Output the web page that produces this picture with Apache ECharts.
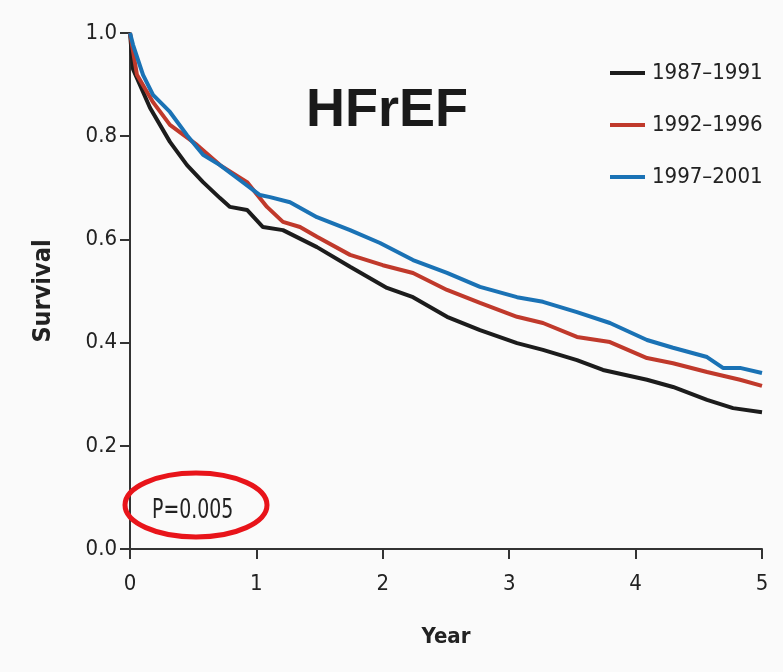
<!DOCTYPE html>
<html>
<head>
<meta charset="utf-8">
<title>HFrEF survival</title>
<script src="https://cdn.jsdelivr.net/npm/echarts@6/dist/echarts.min.js"></script>
<style>
  html, body { margin: 0; padding: 0; background: #fafafa; }
  #main { width: 783px; height: 672px; }
</style>
</head>
<body>
<div id="main"></div>
<script>
// 图例名称
var periods = ["1987\u20131991", "1992\u20131996", "1997\u20132001"];
var lineColors = ["#1c1c1c", "#c0392b", "#1a72b5"];

// 1987-1991 曲线
var yearsA = [0, 0.024, 0.158, 0.316, 0.451, 0.578, 0.712, 0.791, 0.926, 1.052, 1.21, 1.479, 1.741, 2.033, 2.239, 2.508, 2.769, 3.062, 3.267, 3.536, 3.742, 4.09, 4.296, 4.565, 4.771, 5.0];
var survA = [1.0, 0.93, 0.855, 0.789, 0.744, 0.711, 0.68, 0.663, 0.657, 0.624, 0.618, 0.585, 0.547, 0.506, 0.488, 0.45, 0.424, 0.399, 0.386, 0.366, 0.347, 0.328, 0.314, 0.289, 0.273, 0.265];

// 1992-1996 曲线
var yearsB = [0, 0.055, 0.182, 0.316, 0.53, 0.712, 0.926, 1.084, 1.21, 1.345, 1.479, 1.741, 2.0, 2.239, 2.508, 2.769, 3.062, 3.267, 3.536, 3.797, 4.09, 4.296, 4.565, 4.826, 5.0];
var survB = [1.0, 0.919, 0.866, 0.822, 0.783, 0.744, 0.711, 0.663, 0.634, 0.624, 0.605, 0.57, 0.55, 0.535, 0.502, 0.477, 0.45, 0.438, 0.411, 0.401, 0.37, 0.36, 0.343, 0.328, 0.316];

// 1997-2001 曲线
var yearsC = [0, 0.024, 0.103, 0.182, 0.316, 0.451, 0.578, 0.712, 0.847, 1.028, 1.108, 1.266, 1.479, 1.741, 1.978, 2.239, 2.508, 2.769, 3.062, 3.267, 3.536, 3.797, 4.09, 4.296, 4.565, 4.691, 4.826, 5.0];
var survC = [1.0, 0.977, 0.919, 0.88, 0.847, 0.802, 0.764, 0.744, 0.719, 0.686, 0.682, 0.672, 0.643, 0.618, 0.593, 0.56, 0.535, 0.508, 0.488, 0.479, 0.459, 0.438, 0.405, 0.39, 0.372, 0.351, 0.351, 0.341];

var pText = "P=0.005";

function pairs(xs, ys) {
    var out = [];
    for (var i = 0; i < xs.length; i++) {
        out.push([xs[i], ys[i]]);
    }
    return out;
}

var allData = [pairs(yearsA, survA), pairs(yearsB, survB), pairs(yearsC, survC)];

var condFont = "'DejaVu Sans Condensed', 'DejaVu Sans', sans-serif";

var myChart = echarts.init(document.getElementById("main"));
var option = {
    animation: false,
    backgroundColor: "#fafafa",
    title: {
        text: "HFrEF",
        left: 301,
        top: 79,
        textStyle: {
            fontFamily: "'Liberation Sans', Arial, sans-serif",
            fontSize: 54,
            fontWeight: "bold",
            color: "#1a1a1a"
        }
    },
    legend: {
        orient: "vertical",
        left: 605,
        top: 55,
        itemGap: 26,
        itemWidth: 35,
        itemHeight: 4,
        icon: "rect",
        data: periods,
        textStyle: {
            fontFamily: condFont,
            fontSize: 22,
            lineHeight: 26,
            padding: [0, 0, 0, 2],
            color: "#222"
        }
    },
    grid: {
        left: 130,
        right: 21,
        top: 33,
        bottom: 123
    },
    xAxis: {
        type: "value",
        min: 0,
        max: 5,
        interval: 1,
        name: "Year",
        nameLocation: "middle",
        nameGap: 77,
        nameTextStyle: {
            fontFamily: condFont,
            fontSize: 22,
            fontWeight: "bold",
            color: "#222"
        },
        axisLine: { show: true, onZero: false, lineStyle: { color: "#333", width: 2 } },
        axisTick: { show: true, length: 10, lineStyle: { color: "#333", width: 2 } },
        axisLabel: {
            margin: 24,
            fontFamily: condFont,
            fontSize: 22,
            color: "#222"
        },
        splitLine: { show: false }
    },
    yAxis: {
        type: "value",
        min: 0,
        max: 1,
        interval: 0.2,
        name: "Survival",
        nameLocation: "middle",
        nameGap: 74,
        nameRotate: 90,
        nameTextStyle: {
            fontFamily: condFont,
            fontSize: 25,
            fontWeight: "bold",
            color: "#222"
        },
        axisLine: { show: true, onZero: false, lineStyle: { color: "#333", width: 2 } },
        axisTick: { show: true, length: 10, lineStyle: { color: "#333", width: 2 } },
        axisLabel: {
            margin: 13,
            fontFamily: condFont,
            fontSize: 22,
            color: "#222",
            formatter: function (v) { return v.toFixed(1); }
        },
        splitLine: { show: false }
    },
    graphic: [
        {
            type: "ellipse",
            shape: { cx: 196, cy: 505, rx: 71, ry: 32 },
            style: { fill: "none", stroke: "#e8141a", lineWidth: 5 },
            z: 10
        },
        {
            type: "text",
            x: 152,
            y: 511,
            scaleY: 1.3,
            style: {
                text: pText,
                fontFamily: condFont,
                fontSize: 21,
                verticalAlign: "middle",
                fill: "#222"
            },
            z: 11
        }
    ],
    series: periods.map(function (name, i) {
        return {
            name: name,
            type: "line",
            data: allData[i],
            showSymbol: false,
            symbol: "none",
            color: lineColors[i],
            lineStyle: { width: 4, color: lineColors[i] },
            z: 2 + i
        };
    })
};
myChart.setOption(option);
</script>
</body>
</html>
